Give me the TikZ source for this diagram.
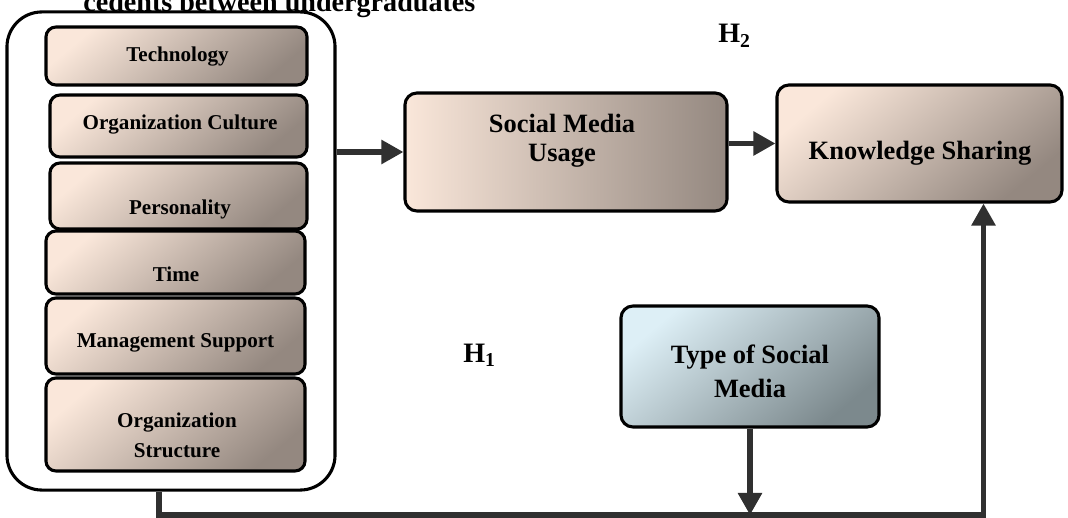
\documentclass[tikz,border=0pt]{standalone}
\usepackage{fontspec}
\setmainfont{Liberation Serif}
\usepackage{tikz}
\usetikzlibrary{arrows.meta}

\definecolor{peach}{HTML}{FAE7DA}
\definecolor{taupe}{HTML}{948880}
\definecolor{iceblue}{HTML}{DDEFF6}
\definecolor{slate}{HTML}{7C898D}
\definecolor{flowgray}{HTML}{303030}

\begin{document}
\begin{tikzpicture}
[
    x = 0.025cm, y = -0.025cm,
    box/.style = {draw, line width = 2.2pt, rounded corners = 0.3cm, inner sep = 0pt,
                  top color = peach, bottom color = taupe, shading angle = 40},
    factor/.style = {box, rounded corners = 0.25cm},
    small/.style = {font = \bfseries\fontsize{15pt}{21.3pt}\selectfont, anchor = base, align = center, inner sep = 0pt},
    big/.style = {font = \bfseries\fontsize{18.8pt}{21pt}\selectfont, anchor = base, align = center, inner sep = 0pt},
    hyp/.style = {font = \bfseries\fontsize{20pt}{24pt}\selectfont, anchor = base west, inner sep = 0pt},
    flow/.style = {draw = flowgray, line width = 3.6pt, -{Triangle[length = 0.55cm, width = 0.58cm]}},
]
    \useasboundingbox (0,0) rectangle (1068,518);

    % caption cut by the page
    \node[hyp] (caption) at (83,12) {cedents between undergraduates};

    % antecedents
    \node[draw, line width = 2.2pt, rounded corners = 0.875cm, fill = white,
          minimum width = 8.2cm, minimum height = 11.95cm] (outer) at (171,251) {};
    \node[factor, minimum width = 6.525cm, minimum height = 1.45cm]  (tech) at (176.5,56) {};
    \node[factor, minimum width = 6.425cm, minimum height = 1.55cm]  (cult) at (178.5,126) {};
    \node[factor, minimum width = 6.425cm, minimum height = 1.65cm]  (pers) at (178.5,196) {};
    \node[factor, minimum width = 6.475cm, minimum height = 1.575cm] (time) at (175.5,262.5) {};
    \node[factor, minimum width = 6.475cm, minimum height = 1.9cm]   (mgmt) at (175.5,336) {};
    \node[factor, minimum width = 6.475cm, minimum height = 2.325cm] (strc) at (175.5,424.5) {};

    \node[small] (techlabel) at (177.5,62)  {Technology};
    \node[small] (cultlabel) at (180,130)   {Organization Culture};
    \node[small] (perslabel) at (180,215)   {Personality};
    \node[small] (timelabel) at (176,282)   {Time};
    \node[small] (mgmtlabel) at (175.5,348) {Management Support};
    \node[small] (strclabel) at (177,457)   {Organization\\Structure};

    % main boxes
    \node[box, left color = peach, right color = taupe,
          minimum width = 8.05cm, minimum height = 2.95cm] (smu) at (566,152) {};
    \node[box, minimum width = 7.125cm, minimum height = 2.925cm] (ks) at (919.5,143.5) {};
    \node[box, top color = iceblue, bottom color = slate, shading angle = 40,
          minimum width = 6.45cm, minimum height = 3.025cm] (tsm) at (750,366.5) {};

    \node[big] (smulabel) at (562,162) {Social Media\\Usage};
    \node[big] (kslabel)  at (920,160) {Knowledge Sharing};
    \node[big] (tsmlabel) at (750,398) {Type of Social\\[3.6pt]Media};

    \node[hyp] (h2) at (718,43)  {H\textsubscript{2}};
    \node[hyp] (h1) at (463,362) {H\textsubscript{1}};

    % connectors
    \coordinate (corner) at (159,515);
    \draw[flow] (outer.east |- smu.west) -- (smu.west);
    \draw[flow] (smu.east |- ks.west) -- (ks.west);
    \draw[flow] (corner |- outer.south) -- (corner) -| ([xshift = 1.6cm]ks.south);
    \draw[flow] (tsm.south) -- (tsm.south |- corner);
\end{tikzpicture}
\end{document}
